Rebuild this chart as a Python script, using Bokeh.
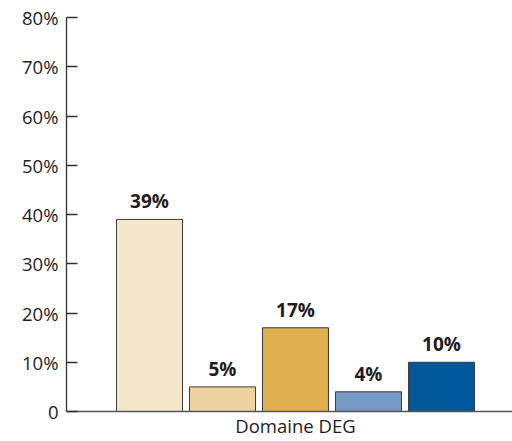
from bokeh.plotting import figure
from bokeh.models import ColumnDataSource, Range1d, FixedTicker
from bokeh.core.properties import value
from bokeh.embed import file_html
from bokeh.resources import INLINE

categories = ["A", "B", "C", "D", "E"]
values = [39, 5, 17, 4, 10]
colors = ["#F5E7CB", "#EDD3A0", "#E0B050", "#7799C5", "#005799"]
bar_labels = ["39%", "5%", "17%", "4%", "10%"]
y_ticks = [0, 10, 20, 30, 40, 50, 60, 70, 80]
y_tick_labels = ["0", "10%", "20%", "30%", "40%", "50%", "60%", "70%", "80%"]
group_label = "Domaine DEG"

FONT = "Open Sans"
TXT = "#1f1c1d"

xpos = list(range(len(categories)))
src = ColumnDataSource(dict(x=xpos, top=values, color=colors, label=bar_labels))

p = figure(frame_width=446, frame_height=394, output_backend="svg",
           toolbar_location=None, x_range=Range1d(-1.137, 4.973),
           y_range=Range1d(0, 80), min_border_left=66, min_border_top=17,
           min_border_right=0, min_border_bottom=10)
p.outline_line_color = None
p.xgrid.visible = False
p.ygrid.visible = False
p.background_fill_color = "white"
p.border_fill_color = "white"

p.vbar(x="x", top="top", bottom=0, width=0.904, fill_color="color",
       line_color="#3a3a3a", line_width=1, source=src)
p.text(x="x", y="top", text="label", source=src, text_font=value(FONT),
       text_font_style="bold", text_font_size="19px", text_color=TXT,
       text_align="center", text_baseline="bottom", y_offset=-5)

ya = p.yaxis[0]
ya.ticker = FixedTicker(ticks=y_ticks)
ya.major_label_overrides = {t: l for t, l in zip(y_ticks, y_tick_labels)}
ya.major_tick_in = 11
ya.major_tick_out = 0
ya.minor_tick_in = 0
ya.minor_tick_out = 0
ya.axis_line_color = "#333333"
ya.axis_line_width = 1.3
ya.major_tick_line_color = "#333333"
ya.major_tick_line_width = 1.3
ya.major_label_text_font = FONT
ya.major_label_text_font_size = "18.5px"
ya.major_label_text_color = TXT
ya.major_label_standoff = 8

xa = p.xaxis[0]
xa.ticker = FixedTicker(ticks=[2])
xa.major_label_overrides = {2: group_label}
xa.major_tick_in = 0
xa.major_tick_out = 0
xa.minor_tick_in = 0
xa.minor_tick_out = 0
xa.axis_line_color = "#555555"
xa.axis_line_width = 1.3
xa.major_label_text_font = FONT
xa.major_label_text_font_size = "18.5px"
xa.major_label_text_color = TXT
xa.major_label_standoff = 1

open("out.html", "w").write(file_html(p, INLINE))
